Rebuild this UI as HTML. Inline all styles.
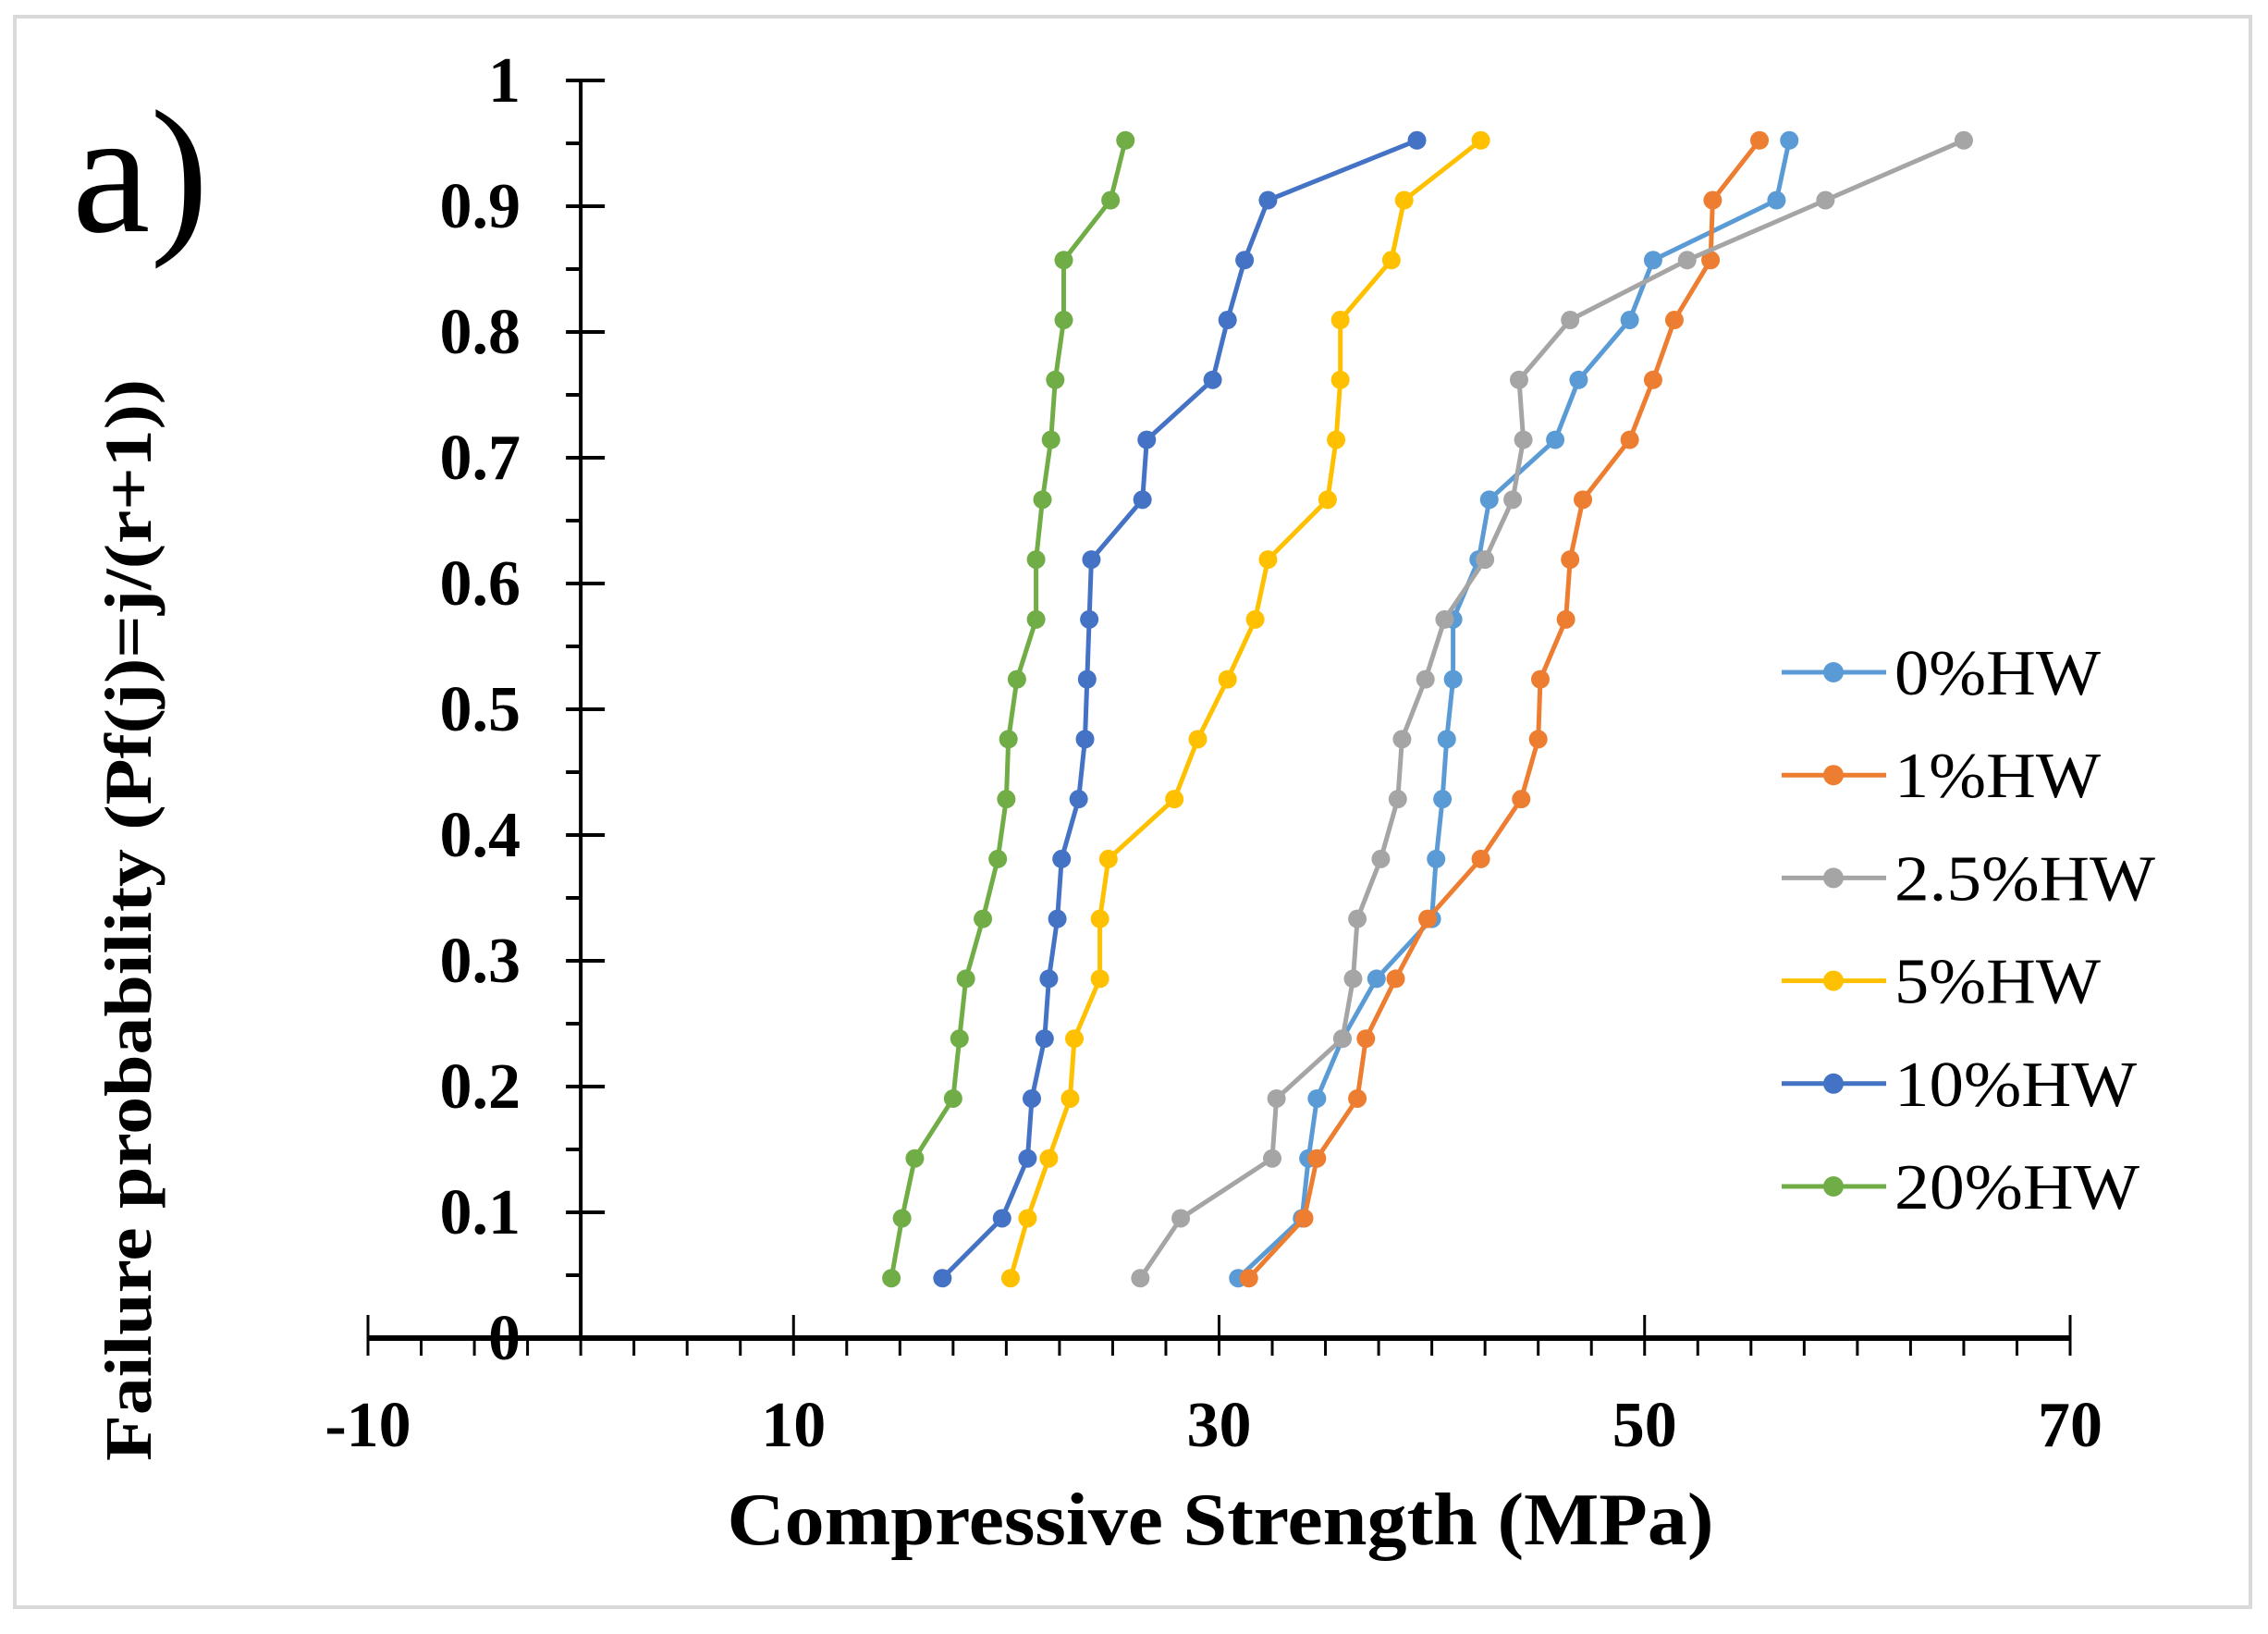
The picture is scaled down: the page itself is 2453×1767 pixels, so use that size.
<!DOCTYPE html>
<html><head><meta charset="utf-8"><style>
html,body{margin:0;padding:0;background:#fff;}
svg{display:block;}
text{font-family:"Liberation Serif",serif;fill:#000;}
</style></head><body>
<svg id="chart" width="2453" height="1767" viewBox="0 0 2453 1767" xmlns="http://www.w3.org/2000/svg">
<rect x="16" y="18" width="2418" height="1720" fill="#fff" stroke="#d9d9d9" stroke-width="4"/>
<text x="78" y="250" font-size="190">a)</text>
<g id="axes"></g>
<g id="series"></g>
<g id="legend"></g>
<text x="1320" y="1670" font-size="80" font-weight="bold" text-anchor="middle" textLength="1067" lengthAdjust="spacingAndGlyphs">Compressive Strength (MPa)</text>
<text transform="translate(163,995) rotate(-90)" font-size="72" font-weight="bold" text-anchor="middle" textLength="1170" lengthAdjust="spacingAndGlyphs">Failure probability (Pf(j)=j/(r+1))</text>
</svg>
<script>
const seriesNames = ["0%HW","1%HW","2.5%HW","5%HW","10%HW","20%HW"];
const seriesColors = ["#5B9BD5","#ED7D31","#A5A5A5","#FFC000","#4472C4","#70AD47"];
const hw0 = [30.9,33.9,34.2,34.6,35.8,37.4,40.0,40.2,40.5,40.7,41.0,41.0,42.2,42.7,45.8,46.9,49.3,50.4,56.2,56.8];
const hw1 = [31.4,34.0,34.6,36.5,36.9,38.3,39.8,42.3,44.2,45.0,45.1,46.3,46.5,47.1,49.3,50.4,51.4,53.1,53.2,55.4];
const hw25 = [26.3,28.2,32.5,32.7,35.8,36.3,36.5,37.6,38.4,38.6,39.7,40.6,42.5,43.8,44.3,44.1,46.5,52.0,58.5,65.0];
const hw5 = [20.2,21.0,22.0,23.0,23.2,24.4,24.4,24.8,27.9,29.0,30.4,31.7,32.3,35.1,35.5,35.7,35.7,38.1,38.7,42.3];
const hw10 = [17.0,19.8,21.0,21.2,21.8,22.0,22.4,22.6,23.4,23.7,23.8,23.9,24.0,26.4,26.6,29.7,30.4,31.2,32.3,39.3];
const hw20 = [14.6,15.1,15.7,17.5,17.8,18.1,18.9,19.6,20.0,20.1,20.5,21.4,21.4,21.7,22.1,22.3,22.7,22.7,24.9,25.6];
const xTickLabels = ["-10","10","30","50","70"];
const yTickLabels = ["0","0.1","0.2","0.3","0.4","0.5","0.6","0.7","0.8","0.9","1"];

const NS = "http://www.w3.org/2000/svg";
const X0 = 398, X1 = 2239, XMIN = -10, XMAX = 70;
const Y0 = 1447, Y1 = 87;
function xs(v){ return X0 + (v - XMIN) / (XMAX - XMIN) * (X1 - X0); }
function ys(v){ return Y0 - v * (Y0 - Y1); }
function mk(tag, attrs, parent){ const e = document.createElementNS(NS, tag); for (const k in attrs) e.setAttribute(k, attrs[k]); parent.appendChild(e); return e; }

const axes = document.getElementById("axes");
const yAxisX = xs(0);
const yl = mk("line", {x1:yAxisX, y1:ys(1), x2:yAxisX, y2:Y0, stroke:"#000", "stroke-width":4}, axes);


for (let i = 0; i <= 20; i++) {
  const v = i * 0.05, y = ys(v), major = i % 2 === 0;
  const t = mk("line", {x1:yAxisX - 16, y1:y, x2:major ? yAxisX + 26 : yAxisX, y2:y, stroke:"#000", "stroke-width":4}, axes);
  
  
}
yTickLabels.forEach((lab, i) => {
  const t = mk("text", {x:563, y:ys(parseFloat(lab)) + 23, "font-size":70, "font-weight":"bold", "text-anchor":"end"}, axes);
  t.textContent = lab;
  
  
});
const xl = mk("line", {x1:X0, y1:Y0, x2:X1, y2:Y0, stroke:"#000", "stroke-width":6}, axes);


for (let i = 0; i <= 32; i++) {
  const v = XMIN + i * 2.5, x = xs(v), major = i % 8 === 0;
  const t = mk("line", {x1:x, y1:major ? Y0 - 25 : Y0, x2:x, y2:Y0 + 19, stroke:"#000", "stroke-width":3}, axes);
  
  
}
xTickLabels.forEach(lab => {
  const t = mk("text", {x:xs(parseFloat(lab)), y:1564, "font-size":70, "font-weight":"bold", "text-anchor":"middle"}, axes);
  t.textContent = lab;
  
  
});

const allSeries = [hw0, hw1, hw25, hw5, hw10, hw20];
const sg = document.getElementById("series");
allSeries.forEach((vals, s) => {
  const n = vals.length;
  const g = mk("g", {}, sg);
  
  
  const pts = vals.map((v, j) => xs(v).toFixed(1) + "," + ys((j + 1) / (n + 1)).toFixed(1)).join(" ");
  const pl = mk("polyline", {points:pts, fill:"none", stroke:seriesColors[s], "stroke-width":5, "stroke-linejoin":"round"}, g);
  
  
  vals.forEach((v, j) => {
    const c = mk("circle", {cx:xs(v), cy:ys((j + 1) / (n + 1)), r:10, fill:seriesColors[s]}, g);
    
    
  });
});

const lg = document.getElementById("legend");
const legendW = [223, 223, 282, 223, 262, 265];
seriesNames.forEach((name, i) => {
  const y = 727 + i * 111.2;
  const g = mk("g", {}, lg);
  
  
  mk("line", {x1:1927, y1:y, x2:2040, y2:y, stroke:seriesColors[i], "stroke-width":5}, g);
  mk("circle", {cx:1983, cy:y, r:11, fill:seriesColors[i]}, g);
  const t = mk("text", {x:2049, y:y + 24, "font-size":70, textLength:legendW[i], lengthAdjust:"spacingAndGlyphs"}, g);
  t.textContent = name;
  
  
});
</script>
</body></html>
